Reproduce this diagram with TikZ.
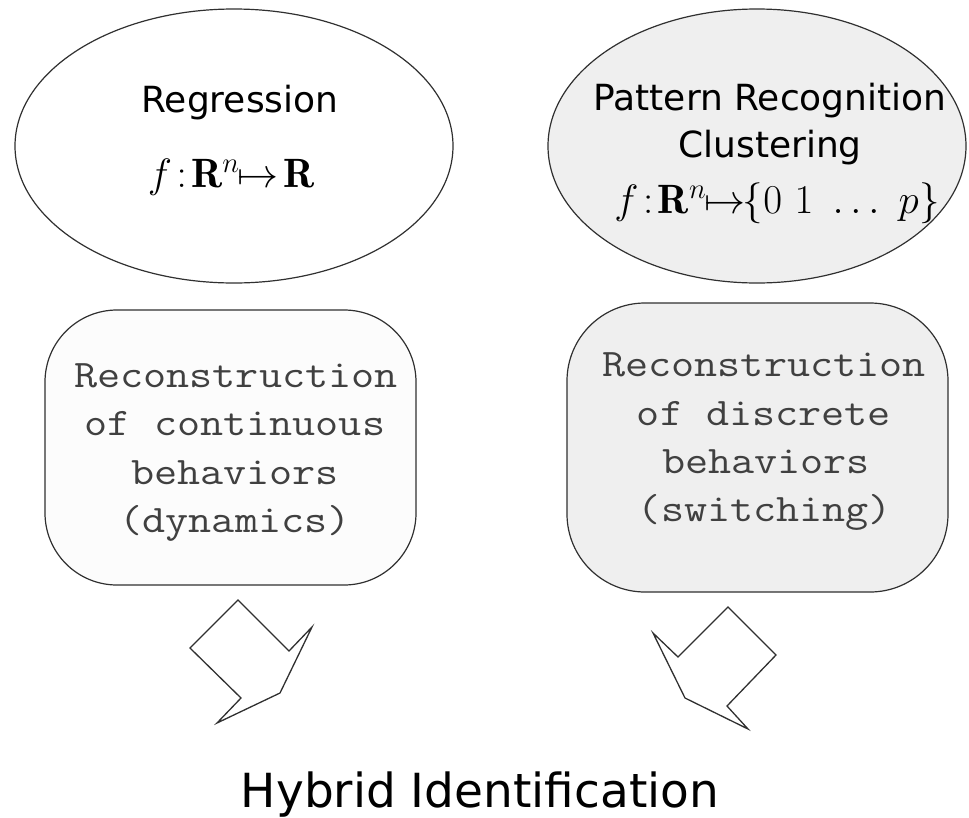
\RequirePackage{fix-cm}
\documentclass[tikz,border=0pt]{standalone}
\usepackage{fontspec}
\usepackage{amsmath}
\newfontfamily\sansf{DejaVu Sans}
\newfontfamily\monof[FakeStretch=1.15]{Latin Modern Mono}
\usetikzlibrary{shapes.geometric}
\definecolor{lineclr}{HTML}{303030}
\definecolor{fillgray}{HTML}{EFEFEF}
\definecolor{fillwhite}{HTML}{FCFCFC}
\tikzset{
  oval/.style={ellipse, draw=lineclr, line width=1.2pt, inner sep=0pt},
  rbox/.style={draw=lineclr, line width=1.2pt, rounded corners=72pt},
  bigarrow/.style={draw=lineclr, line width=1.3pt, line join=miter, fill=white},
  stxt/.style={anchor=base, inner sep=0pt, font=\sansf\fontsize{36}{44}\selectfont},
  mtxt/.style={anchor=base, inner sep=0pt, font=\fontsize{41}{48}\selectfont},
  ctxt/.style={anchor=base, inner sep=0pt, font=\monof\fontsize{39}{46}\selectfont, text=black!75},
  htxt/.style={anchor=base, inner sep=0pt, font=\sansf\fontsize{47}{56}\selectfont}
}
\begin{document}
\begin{tikzpicture}[x=1pt,y=-1pt]
\useasboundingbox (0,0) rectangle (969,817);
% ellipses
\node[oval, fill=white, minimum width=438pt, minimum height=274pt] (e1) at (234,146) {};
\node[oval, fill=fillgray, minimum width=418pt, minimum height=274pt] (e2) at (757,146) {};
\node[stxt] (t1) at (240,112) {Regression};
\node[mtxt] (m1) at (231,187) {$f\!:\!\mathbf{R}^n\!\!\mapsto\!\mathbf{R}$};
\node[stxt] (t2) at (770,110) {Pattern Recognition};
\node[stxt] (t3) at (770,157) {Clustering};
\node[mtxt] (m2) at (777,213) {$f\!:\!\mathbf{R}^n\!\!\mapsto\!\!\{0\ 1\ \ldots\ p\}$};
% rounded boxes
\draw[rbox, fill=fillwhite] (45,310) rectangle (416,585);
\draw[rbox, fill=fillgray, rounded corners=78pt] (567,303) rectangle (948,592);
\node[ctxt] (l1) at (236,387) {Reconstruction};
\node[ctxt] (l2) at (235,435) {of continuous};
\node[ctxt] (l3) at (235,484) {behaviors};
\node[ctxt] (l4) at (235,532) {(dynamics)};
\node[ctxt] (r1) at (764,376) {Reconstruction};
\node[ctxt] (r2) at (764,425) {of discrete};
\node[ctxt] (r3) at (766,473) {behaviors};
\node[ctxt] (r4) at (765,521) {(switching)};
% block arrows
\draw[bigarrow] (238,600) -- (190,648) -- (241,698) -- (217,723) -- (280,693) -- (312,627) -- (289,651) -- cycle;
\draw[bigarrow] (728,607) -- (776,655) -- (727,706) -- (748,729) -- (685,698) -- (653,633) -- (678,657) -- cycle;
% bottom title
\node[htxt] (h) at (480,807) {Hybrid Identification};
\end{tikzpicture}
\end{document}
